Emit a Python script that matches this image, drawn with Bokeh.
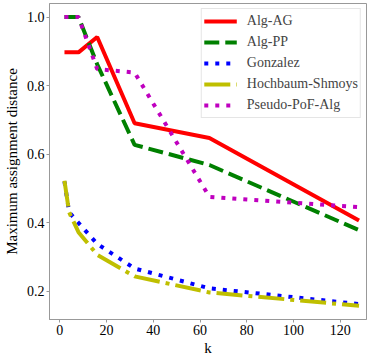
from bokeh.plotting import figure
from bokeh.embed import file_html
from bokeh.resources import INLINE
from bokeh.models import PrintfTickFormatter, FixedTicker, Range1d

k = [2, 4, 8, 16, 32, 64, 128]
alg_ag = [0.897, 0.897, 0.897, 0.942, 0.690, 0.647, 0.406]
alg_pp = [1.0, 1.0, 1.0, 0.862, 0.627, 0.568, 0.378]
gonzalez = [0.52, 0.43, 0.399, 0.338, 0.266, 0.208, 0.162]
hochbaum = [0.522, 0.43, 0.372, 0.306, 0.243, 0.196, 0.157]
pseudo = [1.0, 1.0, 1.0, 0.848, 0.838, 0.475, 0.445]

x_ticks = [0, 20, 40, 60, 80, 100, 120]
y_ticks = [0.2, 0.4, 0.6, 0.8, 1.0]

FONT = "Liberation Serif"

p = figure(width=367, height=358, output_backend="svg", toolbar_location=None,
           x_range=Range1d(-4.4, 131.2), y_range=Range1d(0.117, 1.0396),
           min_border_left=48, min_border_right=1, min_border_top=3, min_border_bottom=36)

p.line(k, alg_ag, color="#ff0000", line_width=4, legend_label="Alg-AG")
p.line(k, alg_pp, color="#008000", line_width=4, line_dash="15 6", legend_label="Alg-PP")
p.line(k, gonzalez, color="#0000ff", line_width=4, line_dash="4 7", legend_label="Gonzalez")
p.line(k, hochbaum, color="#bfbf00", line_width=4, line_dash="26 6 4 6", legend_label="Hochbaum-Shmoys")
p.line(k, pseudo, color="#bf00bf", line_width=4, line_dash="4 7", legend_label="Pseudo-PoF-Alg")

p.grid.visible = False
p.outline_line_color = "#999999"
p.outline_line_width = 1

for ax in (p.xaxis[0], p.yaxis[0]):
    ax.axis_line_color = "#999999"
    ax.major_tick_line_color = "#999999"
    ax.minor_tick_line_color = None
    ax.major_tick_out = 3
    ax.major_tick_in = 0
    ax.major_label_text_font = FONT
    ax.major_label_text_font_size = "14px"
    ax.major_label_text_color = "#000000"
    ax.axis_label_text_font = FONT
    ax.axis_label_text_font_size = "15px"
    ax.axis_label_text_font_style = "normal"
    ax.axis_label_text_color = "#000000"
    ax.major_label_standoff = 2

p.xaxis.ticker = FixedTicker(ticks=x_ticks)
p.yaxis.ticker = FixedTicker(ticks=y_ticks)
p.yaxis.formatter = PrintfTickFormatter(format="%.1f")
p.xaxis.axis_label = "k"
p.yaxis.axis_label = "Maximum assignment distance"
p.xaxis.axis_label_standoff = 2
p.yaxis.axis_label_standoff = 4

lg = p.legend[0]
lg.location = "top_right"
lg.margin = 5
lg.padding = 2
lg.spacing = 1
lg.glyph_width = 33
lg.glyph_height = 20
lg.label_height = 20
lg.label_standoff = 10
lg.label_text_font = FONT
lg.label_text_font_size = "14px"
lg.border_line_color = "#cccccc"
lg.border_line_width = 1
lg.background_fill_alpha = 0.8

open("out.html", "w").write(file_html(p, INLINE))
